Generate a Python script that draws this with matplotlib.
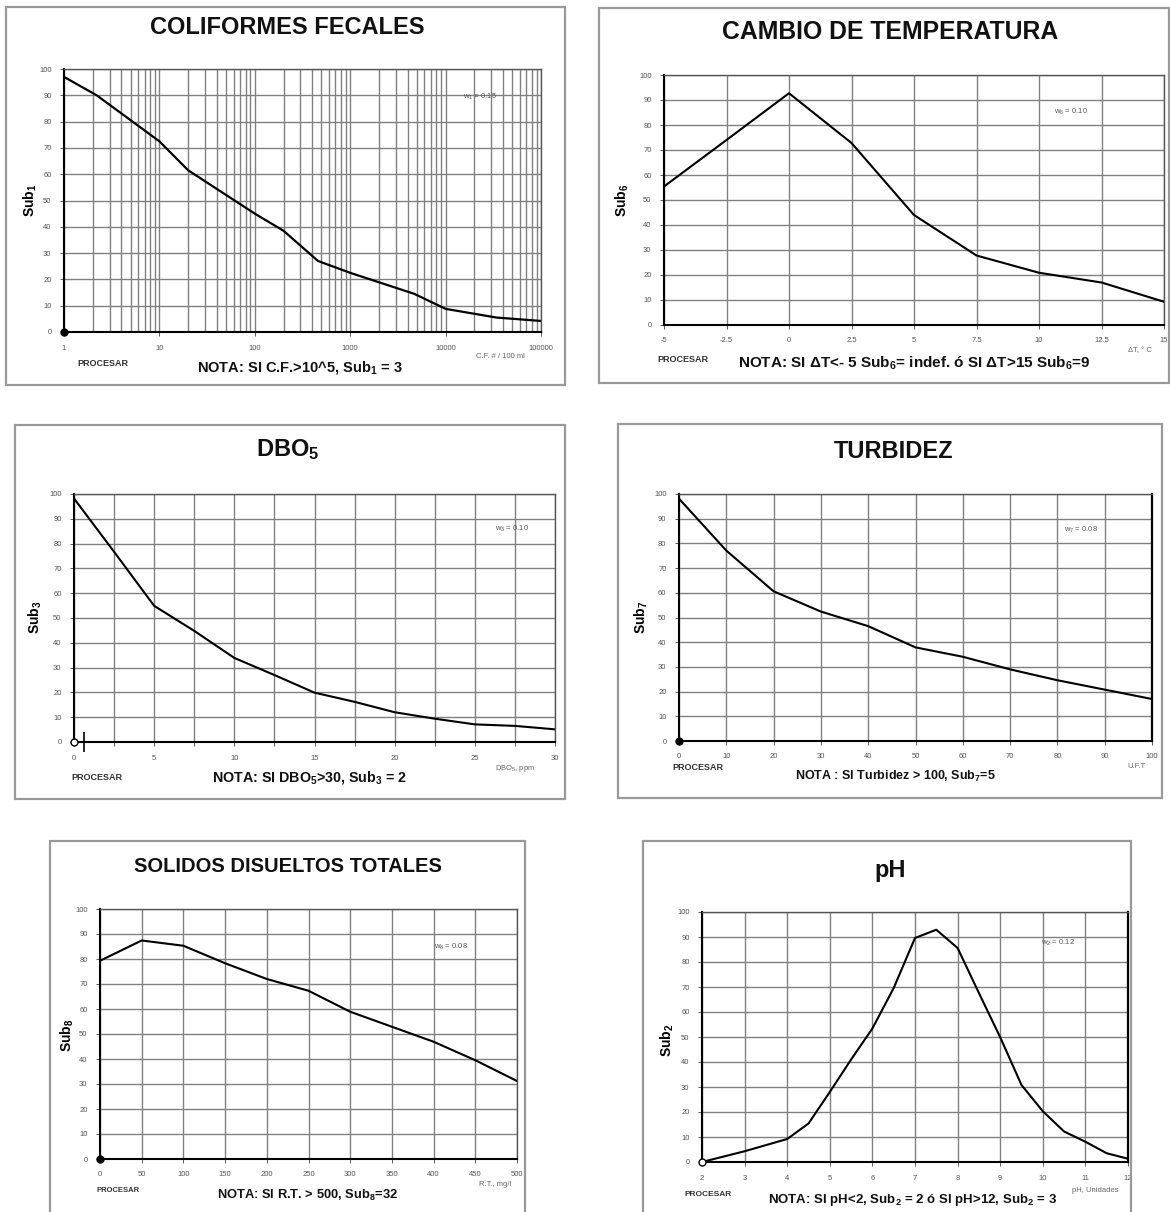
import matplotlib
matplotlib.use("Agg")
import matplotlib.pyplot as plt
from matplotlib.patches import Rectangle
import numpy as np

plt.rcParams['font.family'] = ['Liberation Sans', 'DejaVu Sans']
plt.rcParams['mathtext.fontset'] = 'custom'
plt.rcParams['mathtext.rm'] = 'Liberation Sans'
plt.rcParams['mathtext.it'] = 'Liberation Sans:italic'
plt.rcParams['mathtext.bf'] = 'Liberation Sans:bold'

W, H = 1170, 1212

# --- data ---
cf_x = [1, 2.2, 10, 20, 100, 200, 460, 1000, 4700, 10000, 34000, 100000]
cf_y = [97, 90, 72.5, 61.5, 45, 38.5, 27, 22.5, 14.5, 8.8, 5.5, 4.2]

temp_x = [-5, -2.5, 0, 2.5, 5, 7.5, 10, 12.5, 15]
temp_y = [55.4, 74, 92.7, 72.8, 44, 27.8, 20.9, 17, 9.3]

dbo_x = [0, 2.5, 5, 7.5, 10, 12.5, 15, 17.5, 20, 22.5, 25, 27.5, 30]
dbo_y = [98.2, 76.7, 54.9, 44.8, 33.9, 27, 19.9, 16.2, 12, 9.4, 7.1, 6.5, 5.1]

turb_x = [0, 10, 20, 30, 40, 50, 60, 70, 80, 90, 100]
turb_y = [98.1, 77.1, 60.6, 52.4, 46.5, 37.9, 34.1, 29, 24.6, 20.8, 17]

sdt_x = [0, 50, 100, 150, 200, 250, 300, 350, 400, 450, 500]
sdt_y = [79.3, 87.4, 85.3, 78.3, 72, 67.3, 58.9, 52.9, 46.9, 39.5, 31.2]

ph_x = [2, 3, 4, 4.5, 5, 5.5, 6, 6.5, 7, 7.5, 8, 8.5, 9, 9.5, 10, 10.5, 11, 11.5, 12]
ph_y = [0, 4.3, 9.2, 15.4, 28, 41, 53.4, 69.6, 89.6, 92.9, 85.6, 67.6, 49.9,
        30.8, 20.3, 12.2, 8.1, 3.5, 1.3]

# slider markers at the origin of each chart
cf_dot = (1, 0)
dbo_dot = (0, 0)
dbo_bar = (0.6, 0)
turb_dot = (0, 0)
sdt_dot = (0, 0)
ph_dot = (2, 0)

y_ticks = list(range(0, 101, 10))
cf_ticks = [1, 10, 100, 1000, 10000, 100000]
temp_ticks = [-5, -2.5, 0, 2.5, 5, 7.5, 10, 12.5, 15]
temp_labels = ['-5', '-2.5', '0', '2.5', '5', '7.5', '10', '12.5', '15']
dbo_ticks = [0, 5, 10, 15, 20, 25, 30]
dbo_grid = list(np.arange(0, 30.1, 2.5))
turb_ticks = list(range(0, 101, 10))
sdt_ticks = list(range(0, 501, 50))
ph_ticks = list(range(2, 13))

fig = plt.figure(figsize=(W / 100, H / 100), dpi=100)


def fx(x):
    return x / W


def fy(y):
    return 1 - y / H


def box(x0, y0, x1, y1):
    fig.add_artist(Rectangle((fx(x0), fy(y1)), (x1 - x0) / W, (y1 - y0) / H,
                             transform=fig.transFigure, fill=False,
                             ec='#9a9a9a', lw=1.6))


def make_axes(x0, y0, x1, y1):
    ax = fig.add_axes([fx(x0), fy(y1), (x1 - x0) / W, (y1 - y0) / H])
    ax.set_ylim(0, 100)
    ax.set_yticks(y_ticks)
    ax.grid(True, which='both', color='#808080', lw=1.0)
    ax.set_axisbelow(True)
    for s in ('top', 'right'):
        ax.spines[s].set_color('#555555')
        ax.spines[s].set_linewidth(1.0)
    for s in ('left', 'bottom'):
        ax.spines[s].set_color('black')
        ax.spines[s].set_linewidth(1.5)
    ax.tick_params(which='major', length=3, width=0.6, labelsize=5.5,
                   labelcolor='#555555', color='#444444', pad=6)
    ax.tick_params(which='minor', length=0)
    return ax


def decorate(title, ylab, xlab, wlab, note, tpos, ypos, xpos, wpos, ppos, npos,
             tsize=17, nsize=10.5, psize=6.5):
    fig.text(fx(tpos[0]), fy(tpos[1]), title, ha='center', va='center',
             fontsize=tsize, fontweight='bold', color='#111111')
    fig.text(fx(ypos[0]), fy(ypos[1]), ylab, ha='center', va='center',
             fontsize=10, fontweight='bold', rotation=90)
    fig.text(fx(xpos[0]), fy(xpos[1]), xlab, ha='center', va='center',
             fontsize=5.5, color='#666666')
    fig.text(fx(wpos[0]), fy(wpos[1]), wlab, ha='center', va='center',
             fontsize=5.5, color='#555555')
    fig.text(fx(ppos[0]), fy(ppos[1]), 'PROCESAR', ha='center', va='center',
             fontsize=psize, fontweight='bold', color='#333333')
    fig.text(fx(npos[0]), fy(npos[1]), note, ha='center', va='center',
             fontsize=nsize, fontweight='bold', color='#111111')


# 1) Coliformes fecales
box(6, 7, 565, 385)
ax = make_axes(64, 69, 541, 332)
ax.set_xscale('log')
ax.set_xlim(1, 100000)
ax.set_xticks(cf_ticks)
ax.set_xticklabels([str(t) for t in cf_ticks])
ax.plot(cf_x, cf_y, color='black', lw=1.6)
ax.plot(*cf_dot, 'o', color='black', ms=5, clip_on=False, zorder=5)
decorate('COLIFORMES FECALES', r'Sub$_\mathbf{1}$', 'C.F. # / 100 ml',
         r'w$_1$ = 0.15', r'NOTA: SI C.F.>10^5, Sub$_\mathbf{1}$ = 3',
         (287, 27), (30, 200), (500, 357), (480, 97), (103, 364), (300, 368))

# 2) Cambio de temperatura
box(599, 8, 1169, 383)
ax = make_axes(664, 75, 1164, 325)
ax.set_xlim(-5, 15)
ax.set_xticks(temp_ticks)
ax.set_xticklabels(temp_labels)
ax.plot(temp_x, temp_y, color='black', lw=1.5)
decorate('CAMBIO DE TEMPERATURA', r'Sub$_\mathbf{6}$', 'ΔT, ° C',
         r'w$_6$ = 0.10',
         r'NOTA: SI ΔT<- 5 Sub$_\mathbf{6}$= indef. ó SI ΔT>15 Sub$_\mathbf{6}$=9',
         (890, 32), (622, 200), (1140, 351), (1071, 112), (683, 360), (914, 363),
         tsize=17.8, nsize=11)

# 3) DBO5
box(15, 425, 565, 799)
ax = make_axes(74, 494, 555, 742)
ax.set_xlim(0, 30)
ax.set_xticks(dbo_grid)
ax.set_xticklabels([f'{t:g}' if t in dbo_ticks else '' for t in dbo_grid])
ax.plot(dbo_x, dbo_y, color='black', lw=1.5)
ax.plot(*dbo_dot, 'o', mfc='white', mec='black', ms=5, clip_on=False, zorder=5)
ax.plot(*dbo_bar, marker='|', color='black', ms=14, mew=1.2,
        clip_on=False, zorder=5)
decorate(r'DBO$_\mathbf{5}$', r'Sub$_\mathbf{3}$', r'DBO$_5$, ppm',
         r'w$_3$ = 0.10', r'NOTA: SI DBO$_\mathbf{5}$>30, Sub$_\mathbf{3}$ = 2',
         (288, 450), (35, 617), (515, 768), (512, 529), (97, 778), (309, 778),
         nsize=10.3)

# 4) Turbidez
box(618, 424, 1162, 798)
ax = make_axes(679, 494, 1152, 741)
ax.set_xlim(0, 100)
ax.set_xticks(turb_ticks)
ax.plot(turb_x, turb_y, color='black', lw=1.5)
ax.plot(*turb_dot, 'o', color='black', ms=5, clip_on=False, zorder=5)
ax.spines['right'].set_color('black')
ax.spines['right'].set_linewidth(1.6)
decorate('TURBIDEZ', r'Sub$_\mathbf{7}$', 'U.F.T', r'w$_7$ = 0.08',
         r'NOTA : SI Turbidez > 100, Sub$_\mathbf{7}$=5',
         (893, 452), (641, 617), (1136, 767), (1081, 530), (698, 768), (895, 776),
         nsize=9)

# 5) Solidos disueltos totales
box(50, 841, 525, 1215)
ax = make_axes(100, 909, 517, 1159)
ax.set_xlim(0, 500)
ax.set_xticks(sdt_ticks)
ax.plot(sdt_x, sdt_y, color='black', lw=1.5)
ax.plot(*sdt_dot, 'o', color='black', ms=5, clip_on=False, zorder=5)
decorate('SOLIDOS DISUELTOS TOTALES', r'Sub$_\mathbf{8}$', 'R.T., mg/l',
         r'w$_8$ = 0.08', r'NOTA: SI R.T. > 500, Sub$_\mathbf{8}$=32',
         (288, 866), (67, 1035), (495, 1185), (451, 947), (118, 1190), (307, 1195),
         tsize=14.5, nsize=9.3, psize=5.5)

# 6) pH
box(643, 841, 1131, 1215)
ax = make_axes(702, 912, 1128, 1162)
ax.set_xlim(2, 12)
ax.set_xticks(ph_ticks)
ax.plot(ph_x, ph_y, color='black', lw=1.5)
ax.plot(*ph_dot, 'o', mfc='white', mec='black', ms=5, clip_on=False, zorder=5)
ax.spines['right'].set_color('black')
ax.spines['right'].set_linewidth(1.6)
decorate('pH', r'Sub$_\mathbf{2}$', 'pH, Unidades', r'w$_2$ = 0.12',
         r'NOTA: SI pH<2, Sub$_\mathbf{2}$ = 2 ó SI pH>12, Sub$_\mathbf{2}$ = 3',
         (890, 870), (667, 1040), (1095, 1190), (1058, 943), (708, 1195), (913, 1200),
         nsize=9.5, psize=6)

fig.savefig('out.png', dpi=100)
